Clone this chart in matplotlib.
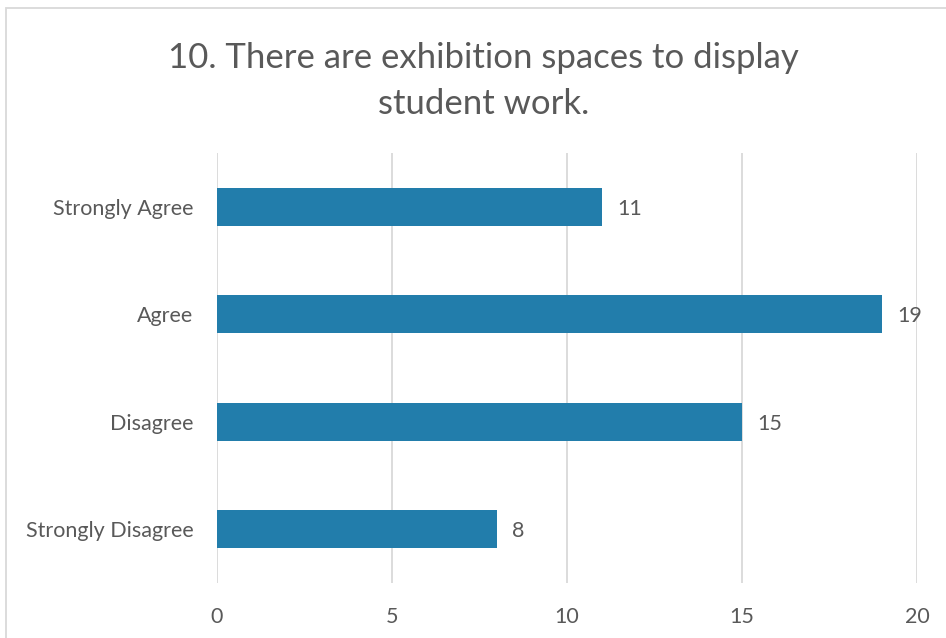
import matplotlib
matplotlib.use('Agg')
import matplotlib.pyplot as plt
from matplotlib.patches import Rectangle

# data
categories = ['Strongly Disagree', 'Disagree', 'Agree', 'Strongly Agree']
counts = [8, 15, 19, 11]
x_ticks = [0, 5, 10, 15, 20]
title = '10. There are exhibition spaces to display\nstudent work.'

bar_color = '#227DAB'
text_color = '#595959'
grid_color = '#D9D9D9'

plt.rcParams['font.family'] = ['Lato', 'DejaVu Sans']

W, H = 946, 638
fig = plt.figure(figsize=(W / 100, H / 100), dpi=100)
fig.patch.set_facecolor('white')

# chart area border (runs off right/bottom edge)
fig.patches.append(Rectangle((6 / W, -0.05), 1.2, 1 - 8 / H + 0.05,
                             transform=fig.transFigure, fill=False,
                             edgecolor=grid_color, linewidth=1.3))

ax = fig.add_axes([217 / W, (H - 583) / H, 700 / W, 430 / H])
ax.barh(range(len(categories)), counts, height=0.35, color=bar_color, zorder=3)
ax.set_xlim(0, 20)
ax.set_ylim(-0.5, len(categories) - 0.5)
ax.set_xticks(x_ticks)
ax.set_yticks(range(len(categories)))
ax.set_yticklabels(categories)
ax.tick_params(axis='both', length=0, labelsize=15.5, labelcolor=text_color)
ax.tick_params(axis='y', pad=17)
ax.tick_params(axis='x', pad=17)
ax.grid(axis='x', color=grid_color, linewidth=1.3, zorder=0)
for s in ax.spines.values():
    s.set_visible(False)

for i, v in enumerate(counts):
    ax.annotate(str(v), (v, i), xytext=(15, -2), textcoords='offset pixels',
                va='center', ha='left', fontsize=15.5, color=text_color)

fig.text(0.5 * (172 + 795) / W, 1 - 81 / H, title, ha='center', va='center',
         fontsize=25, color=text_color, linespacing=1.5)

fig.savefig('out.png', dpi=100)
